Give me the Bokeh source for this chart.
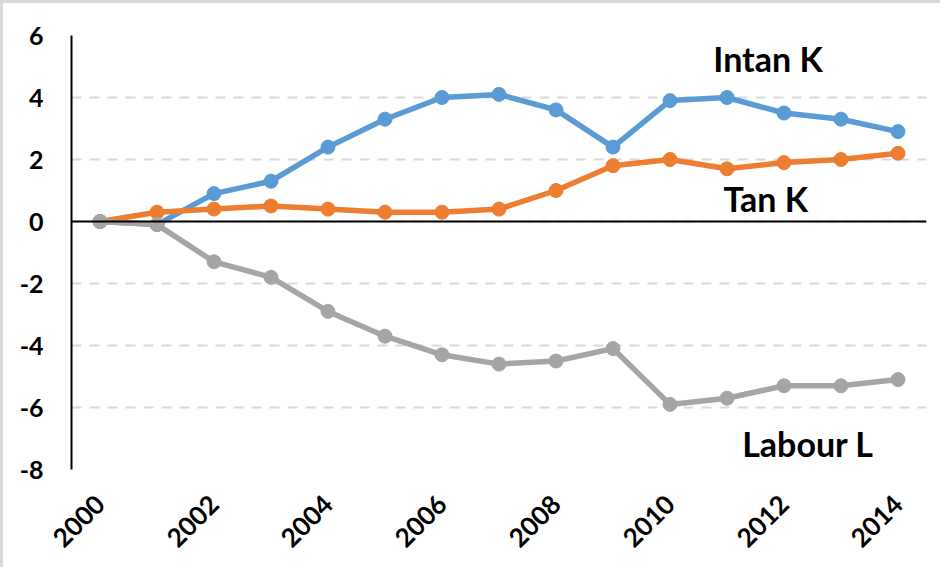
import math
from bokeh.plotting import figure
from bokeh.models import FixedTicker, Span, Label, Range1d
from bokeh.embed import file_html
from bokeh.resources import INLINE

years = list(range(2000, 2015))
intan_k = [0.0, -0.1, 0.9, 1.3, 2.4, 3.3, 4.0, 4.1, 3.6, 2.4, 3.9, 4.0, 3.5, 3.3, 2.9]
tan_k = [0.0, 0.3, 0.4, 0.5, 0.4, 0.3, 0.3, 0.4, 1.0, 1.8, 2.0, 1.7, 1.9, 2.0, 2.2]
labour_l = [0.0, -0.1, -1.3, -1.8, -2.9, -3.7, -4.3, -4.6, -4.5, -4.1, -5.9, -5.7, -5.3, -5.3, -5.1]
x_ticks = [2000, 2002, 2004, 2006, 2008, 2010, 2012, 2014]
y_ticks = [-8, -6, -4, -2, 0, 2, 4, 6]
y_tick_labels = ["-8", "-6", "-4", "-2", "0", "2", "4", "6"]

FONT = "Lato"

p = figure(width=940, height=567, output_backend="svg", toolbar_location=None,
           x_range=Range1d(1999.5, 2014.5), y_range=Range1d(-8, 6),
           min_border_left=68, min_border_right=17, min_border_top=32, min_border_bottom=101)
p.styles = {"border-left": "3px solid #d9d9d9", "border-top": "3px solid #d9d9d9"}
p.outline_line_color = None
p.background_fill_color = "white"
p.border_fill_color = "white"

# grid
p.xgrid.visible = False
p.ygrid.ticker = FixedTicker(ticks=y_ticks)
p.ygrid.grid_line_color = "#d9d9d9"
p.ygrid.grid_line_width = 2
p.ygrid.grid_line_dash = "10 8"

# axes
p.xaxis.ticker = FixedTicker(ticks=x_ticks)
p.xaxis.axis_line_color = None
p.xaxis.major_tick_line_color = None
p.xaxis.minor_tick_line_color = None
p.xaxis.major_label_orientation = math.pi / 4
p.xaxis.major_label_text_font = FONT
p.xaxis.major_label_text_font_style = "bold"
p.xaxis.major_label_text_font_size = "26px"
p.xaxis.major_label_text_color = "black"
p.xaxis.major_label_standoff = 24

p.yaxis.ticker = FixedTicker(ticks=y_ticks)
p.yaxis.major_label_overrides = {t: s for t, s in zip(y_ticks, y_tick_labels)}
p.yaxis.axis_line_color = "black"
p.yaxis.axis_line_width = 2
p.yaxis.major_tick_line_color = None
p.yaxis.minor_tick_line_color = None
p.yaxis.major_label_text_font = FONT
p.yaxis.major_label_text_font_style = "bold"
p.yaxis.major_label_text_font_size = "25px"
p.yaxis.major_label_text_color = "black"
p.yaxis.major_label_standoff = 22

p.add_layout(Span(location=0, dimension="width", line_color="black", line_width=2))

series = [
    (intan_k, "#5B9BD5"),
    (tan_k, "#ED7D31"),
    (labour_l, "#A5A5A5"),
]
for vals, col in series:
    p.line(years, vals, line_color=col, line_width=5.5)
    p.scatter(years, vals, size=14, fill_color=col, line_color=col)

for txt, x, y in [("Intan K", 2011.72, 5.26), ("Tan K", 2011.68, 0.74), ("Labour L", 2012.42, -7.16)]:
    p.add_layout(Label(x=x, y=y, text=txt, text_align="center", text_baseline="middle",
                       text_font=FONT, text_font_style="bold", text_font_size="34px",
                       text_color="black"))

open("out.html", "w").write(file_html(p, INLINE))
